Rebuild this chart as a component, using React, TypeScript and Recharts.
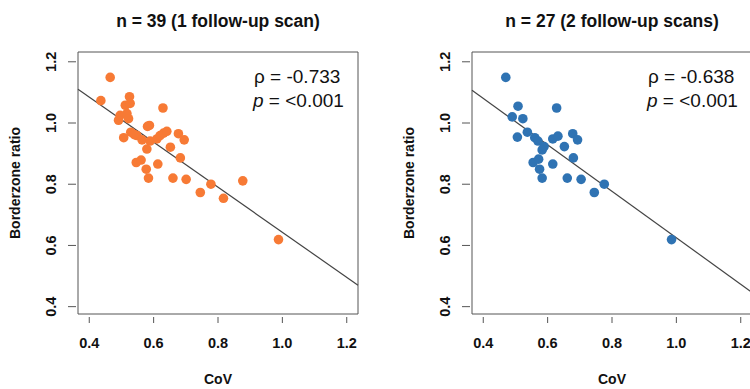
import React from 'react';
import { ScatterChart, Scatter, XAxis, YAxis, ReferenceArea, ReferenceLine, Label } from 'recharts';

// ---- data ----
const leftCov = [0.465, 0.436, 0.525, 0.512, 0.527, 0.496, 0.517, 0.491, 0.522, 0.629, 0.581, 0.587, 0.507, 0.529, 0.548, 0.564, 0.589, 0.579, 0.61, 0.62, 0.631, 0.641, 0.677, 0.695, 0.652, 0.683, 0.546, 0.561, 0.613, 0.577, 0.584, 0.66, 0.701, 0.778, 0.877, 0.745, 0.817, 0.988, 0.54];
const leftRatio = [1.149, 1.073, 1.086, 1.058, 1.064, 1.025, 1.031, 1.009, 1.014, 1.049, 0.989, 0.992, 0.952, 0.97, 0.959, 0.945, 0.941, 0.915, 0.948, 0.959, 0.967, 0.973, 0.965, 0.945, 0.921, 0.886, 0.871, 0.879, 0.866, 0.849, 0.82, 0.82, 0.816, 0.8, 0.811, 0.773, 0.754, 0.619, 0.962];

const rightCov = [0.47, 0.508, 0.49, 0.523, 0.628, 0.506, 0.537, 0.56, 0.57, 0.583, 0.589, 0.616, 0.632, 0.652, 0.678, 0.693, 0.68, 0.555, 0.572, 0.616, 0.575, 0.583, 0.661, 0.704, 0.745, 0.776, 0.985];
const rightRatio = [1.149, 1.055, 1.02, 1.014, 1.049, 0.954, 0.97, 0.952, 0.941, 0.912, 0.923, 0.948, 0.957, 0.923, 0.965, 0.945, 0.886, 0.871, 0.882, 0.866, 0.849, 0.82, 0.82, 0.816, 0.773, 0.8, 0.619];

const xTicks = [0.4, 0.6, 0.8, 1.0, 1.2];
const yTicks = [0.4, 0.6, 0.8, 1.0, 1.2];

const leftTitle = 'n = 39 (1 follow-up scan)';
const rightTitle = 'n = 27 (2 follow-up scans)';
const leftRho = '-0.733';
const rightRho = '-0.638';
const pText = '<0.001';

// regression fits (intercept, slope)
const leftFit = { a: 1.379, b: -0.736 };
const rightFit = { a: 1.384, b: -0.759 };

const X_DOMAIN: [number, number] = [0.365, 1.235];
const Y_DOMAIN: [number, number] = [0.376, 1.232];

const FONT = '"Liberation Sans", Arial, Helvetica, sans-serif';
const AXIS_GREY = '#555';

const XTick = (props: any) => {
  const { x, y, payload } = props;
  return (
    <g>
      <line x1={x} x2={x} y1={y + 3} y2={y + 9} stroke={AXIS_GREY} strokeWidth={1} />
      <text x={x} y={y + 34} textAnchor="middle" fontFamily={FONT} fontWeight="bold" fontSize={14.5} fill="#111">
        {Number(payload.value).toFixed(1)}
      </text>
    </g>
  );
};

const YTick = (props: any) => {
  const { x, y, payload } = props;
  const tx = x - 22;
  return (
    <g>
      <line x1={x - 10} x2={x - 2} y1={y} y2={y} stroke={AXIS_GREY} strokeWidth={1} />
      <text x={tx} y={y} transform={`rotate(-90, ${tx}, ${y})`} textAnchor="middle" fontFamily={FONT} fontWeight="bold" fontSize={14.5} fill="#111">
        {Number(payload.value).toFixed(1)}
      </text>
    </g>
  );
};

type PanelProps = {
  cov: number[];
  ratio: number[];
  color: string;
  title: string;
  rho: string;
  fit: { a: number; b: number };
};

const Panel = ({ cov, ratio, color, title, rho, fit }: PanelProps) => {
  const data = cov.map((c, i) => ({ x: c, y: ratio[i] }));
  const seg = [
    { x: X_DOMAIN[0], y: fit.a + fit.b * X_DOMAIN[0] },
    { x: X_DOMAIN[1], y: fit.a + fit.b * X_DOMAIN[1] },
  ];
  return (
    <ScatterChart width={375} height={389} margin={{ top: 52, right: 17, bottom: 0, left: 0 }}>
      <XAxis
        type="number"
        dataKey="x"
        domain={X_DOMAIN}
        ticks={xTicks}
        allowDataOverflow
        height={75}
        axisLine={false}
        tickLine={false}
        tickSize={0}
        tickMargin={0}
        tick={<XTick />}
        interval={0}
      >
        <Label
          content={(p: any) => {
            const vb = p.viewBox;
            return (
              <text x={vb.x + vb.width / 2} y={vb.y + 70} textAnchor="middle" fontFamily={FONT} fontWeight="bold" fontSize={14} fill="#111">
                CoV
              </text>
            );
          }}
        />
      </XAxis>
      <YAxis
        type="number"
        dataKey="y"
        domain={Y_DOMAIN}
        ticks={yTicks}
        allowDataOverflow
        width={78}
        axisLine={false}
        tickLine={false}
        tickSize={0}
        tickMargin={0}
        tick={<YTick />}
        interval={0}
      >
        <Label
          content={(p: any) => {
            const vb = p.viewBox;
            const cx = 20;
            const cy = vb.y + vb.height / 2;
            return (
              <text x={cx} y={cy} transform={`rotate(-90, ${cx}, ${cy})`} textAnchor="middle" fontFamily={FONT} fontWeight="bold" fontSize={14} fill="#111">
                Borderzone ratio
              </text>
            );
          }}
        />
      </YAxis>
      <ReferenceArea
        x1={X_DOMAIN[0]}
        x2={X_DOMAIN[1]}
        y1={Y_DOMAIN[0]}
        y2={Y_DOMAIN[1]}
        fill="none"
        fillOpacity={0}
        stroke={AXIS_GREY}
        strokeWidth={1}
        ifOverflow="visible"
      />
      <Scatter
        data={data}
        isAnimationActive={false}
        shape={(p: any) => <circle cx={p.cx} cy={p.cy} r={4.8} fill={color} />}
      />
      <ReferenceLine segment={seg} stroke="#444" strokeWidth={1.2} ifOverflow="visible" />
      <text x={218} y={27} textAnchor="middle" fontFamily={FONT} fontWeight="bold" fontSize={17.5} fill="#111">
        {title}
      </text>
      <text x={254} y={83} fontFamily={FONT} fontSize={19} fill="#111">
        {'\u03C1 = '}{rho}
      </text>
      <text x={253} y={107} fontFamily={FONT} fontSize={19} fill="#111">
        <tspan fontStyle="italic">p</tspan>{' = '}{pText}
      </text>
    </ScatterChart>
  );
};

export default function App() {
  return (
    <div style={{ position: 'absolute', left: 0, top: 0, width: 750, height: 389, overflow: 'hidden', background: '#fff' }}>
      <div style={{ position: 'absolute', left: 0, top: 0 }}>
        <Panel cov={leftCov} ratio={leftRatio} color="#F77A35" title={leftTitle} rho={leftRho} fit={leftFit} />
      </div>
      <div style={{ position: 'absolute', left: 394, top: 0 }}>
        <Panel cov={rightCov} ratio={rightRatio} color="#2F73B3" title={rightTitle} rho={rightRho} fit={rightFit} />
      </div>
    </div>
  );
}
